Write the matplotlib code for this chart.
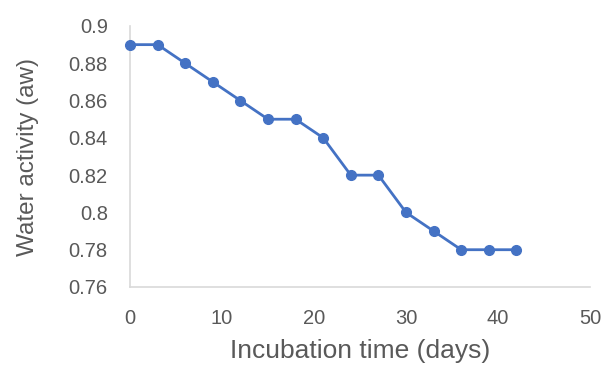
import matplotlib
matplotlib.use("Agg")
import matplotlib.pyplot as plt
import numpy as np

DAYS = [0, 3, 6, 9, 12, 15, 18, 21, 24, 27, 30, 33, 36, 39, 42]
WATER_ACTIVITY = [0.89, 0.89, 0.88, 0.87, 0.86, 0.85, 0.85, 0.84, 0.82, 0.82, 0.80, 0.79, 0.78, 0.78, 0.78]
X_TICKS = [0, 10, 20, 30, 40, 50]
Y_TICKS = [0.76, 0.78, 0.8, 0.82, 0.84, 0.86, 0.88, 0.9]
Y_TICK_LABELS = ["0.76", "0.78", "0.8", "0.82", "0.84", "0.86", "0.88", "0.9"]

plt.rcParams["font.family"] = ["Liberation Sans", "DejaVu Sans"]

fig = plt.figure(figsize=(6.03, 3.65), dpi=100)
ax = fig.add_axes([130 / 603, 1 - 287 / 365, 460 / 603, 261 / 365])

ax.plot(DAYS, WATER_ACTIVITY, color="#4472C4", linewidth=2.0, marker="o",
        markersize=7, clip_on=False, zorder=3)

ax.set_xlim(0, 50)
ax.set_ylim(0.76, 0.9)
ax.set_xticks(X_TICKS)
ax.set_yticks(Y_TICKS)
ax.set_yticklabels(Y_TICK_LABELS)

for side in ("top", "right"):
    ax.spines[side].set_visible(False)
for side in ("left", "bottom"):
    ax.spines[side].set_color("#D9D9D9")
    ax.spines[side].set_linewidth(1.2)

ax.tick_params(axis="both", length=0, labelsize=14.5, colors="#595959")
ax.tick_params(axis="x", pad=16)
ax.tick_params(axis="y", pad=16)

ax.set_xlabel("Incubation time (days)", fontsize=19, color="#595959")
ax.set_ylabel("Water activity (aw)", fontsize=17.5, color="#595959")
ax.xaxis.set_label_coords(0.5, -0.2)
ax.yaxis.set_label_coords(-0.197, 0.5)

fig.savefig("out.png", dpi=100)
